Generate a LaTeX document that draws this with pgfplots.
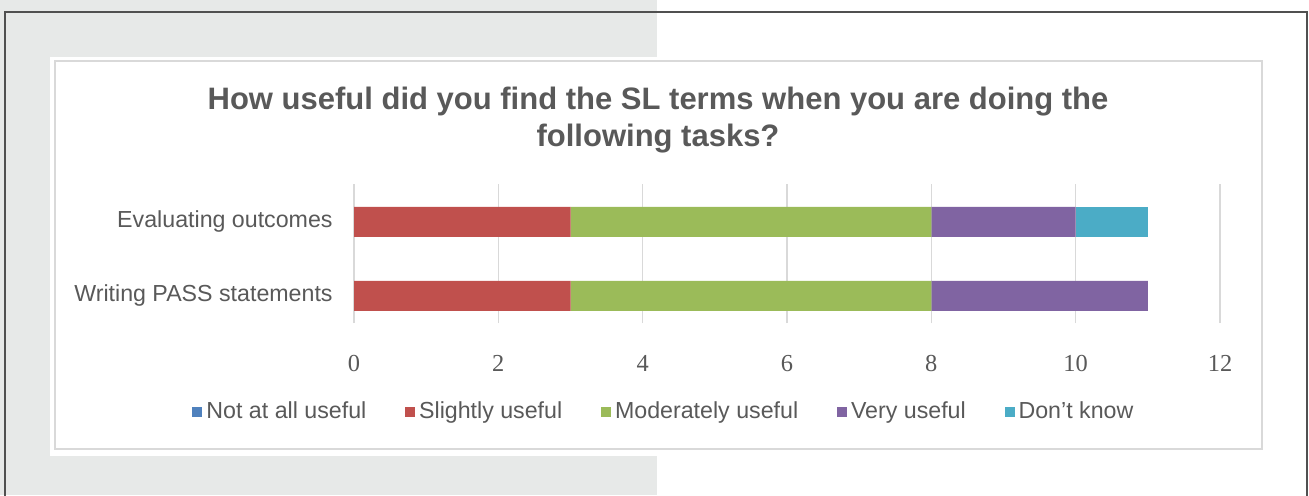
\documentclass[border=0pt]{standalone}
\usepackage{fontspec}
\setmainfont{Liberation Sans}
\newfontfamily\tickfont{Liberation Serif}
\usepackage{pgfplots}
\pgfplotsset{compat=1.18}

\definecolor{bggray}{HTML}{E7E9E8}
\definecolor{bordergray}{HTML}{505050}
\definecolor{boxgray}{HTML}{D9D9D9}
\definecolor{gridgray}{HTML}{D9D9D9}
\definecolor{txtgray}{HTML}{595959}
\definecolor{cblue}{HTML}{4F81BD}
\definecolor{cred}{HTML}{C0504D}
\definecolor{cgreen}{HTML}{9BBB59}
\definecolor{cpurple}{HTML}{8064A2}
\definecolor{ccyan}{HTML}{4BACC6}

\begin{document}
\begin{tikzpicture}
% page frame, 1 px = 0.5pt, y downwards
\begin{scope}[x=0.5pt,y=-0.5pt]
  \path[use as bounding box] (0,0) rectangle (1309,495);
\end{scope}
\clip (0,0) rectangle (654.5pt,-247.5pt);
\begin{scope}[x=0.5pt,y=-0.5pt]
  \fill[bggray] (0,0) rectangle (657,495);
  \draw[bordergray, line width=0.8pt] (5,520) -- (5,12) -- (1307,12) -- (1307,520);
  \fill[white] (50,57) rectangle (1267,456);
  \draw[boxgray, line width=1pt] (55,61) rectangle (1262,449);
  \node[anchor=base, text=txtgray, font=\fontsize{15.5}{18}\selectfont\bfseries]
    at (658,109) {How useful did you find the SL terms when you are doing the};
  \node[anchor=base, text=txtgray, font=\fontsize{15.5}{18}\selectfont\bfseries]
    at (658,146) {following tasks?};
  \coordinate (sw) at (354,323);
\end{scope}

\begin{axis}[
    at={(sw)}, anchor=south west,
    width=433pt, height=69.5pt,
    scale only axis,
    xbar stacked,
    bar width=15pt,
    xmin=0, xmax=12,
    ymin=-0.365, ymax=1.51,
    xtick={0,2,4,6,8,10,12},
    ytick={0,1},
    yticklabels={Writing PASS statements, Evaluating outcomes},
    xmajorgrids,
    grid style={gridgray, line width=0.8pt},
    axis line style={draw=none},
    major tick length=0pt,
    tick style={draw=none},
    /pgf/number format/assume math mode=true,
    xticklabel style={font=\tickfont\fontsize{12.2}{14}\selectfont, text=txtgray,
                      inner sep=0pt, anchor=north, yshift=-16pt},
    yticklabel style={font=\fontsize{11.6}{14}\selectfont, text=txtgray,
                      inner sep=0pt, anchor=east, xshift=-10.5pt},
    legend columns=5,
    legend style={draw=none, fill=none, at={(0.359,-0.64)}, anchor=center,
                  font=\fontsize{11.6}{14}\selectfont, text=txtgray,
                  /tikz/every even column/.append style={column sep=17.4pt}},
    legend image code/.code={\fill[#1] (0pt,-2.5pt) rectangle (5pt,2.5pt);},
]
\addplot[fill=cblue, draw=none] coordinates {(0,0) (0,1)};
\addlegendentry{Not at all useful}
\addplot[fill=cred, draw=none] coordinates {(3,0) (3,1)};
\addlegendentry{Slightly useful}
\addplot[fill=cgreen, draw=none] coordinates {(5,0) (5,1)};
\addlegendentry{Moderately useful}
\addplot[fill=cpurple, draw=none] coordinates {(3,0) (2,1)};
\addlegendentry{Very useful}
\addplot[fill=ccyan, draw=none] coordinates {(0,0) (1,1)};
\addlegendentry{Don’t know}
\end{axis}
\end{tikzpicture}
\end{document}
